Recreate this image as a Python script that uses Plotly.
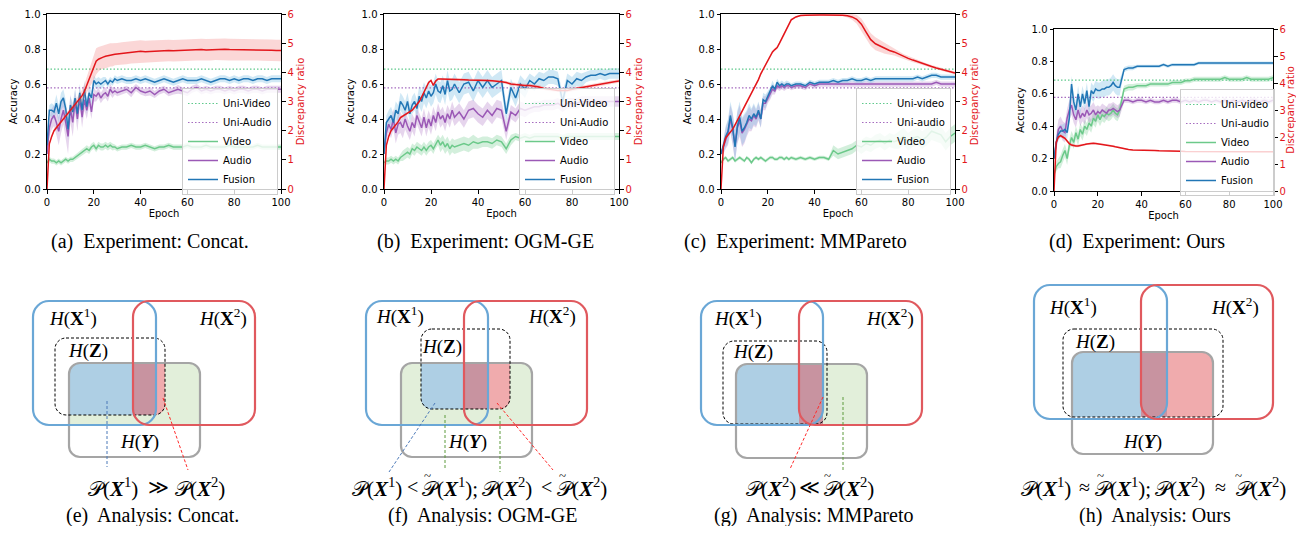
import plotly.graph_objects as go

# page is 1304x534; the browser adds an 8px body margin, so the figure is drawn
# 16px smaller and all layout positions below are given in page pixels.
PAGE_W, PAGE_H, OFF = 1304, 534, 8
W, H = PAGE_W - 2 * OFF, PAGE_H - 2 * OFF

# ---------------- data ----------------
EPOCHS = list(range(0, 31)) + list(range(32, 101, 2))

UNI_VIDEO_ACC = 0.685
UNI_AUDIO_ACC = 0.578

# ---- (a) Concat ----
VIDEO_A = [0.15,0.17,0.16,0.16,0.15,0.16,0.15,0.16,0.17,0.16,0.17,0.17,0.18,0.19,0.20,0.21,0.22,0.23,0.22,0.24,0.25,0.23,0.25,0.24,0.24,0.25,0.24,0.25,0.24,0.24,0.23,
           0.24,0.24,0.25,0.24,0.24,0.25,0.24,0.23,0.24,0.24,0.25,0.24,0.24,0.24,0.25,0.24,0.24,0.24,0.25,0.24,0.24,0.24,0.24,0.25,0.24,0.24,0.24,0.24,0.24,0.25,0.24,0.24,0.24,0.24,0.24]
AUDIO_A = [0.20,0.35,0.40,0.42,0.38,0.33,0.40,0.45,0.38,0.30,0.46,0.38,0.50,0.40,0.52,0.41,0.51,0.45,0.52,0.44,0.54,0.53,0.55,0.52,0.54,0.55,0.53,0.57,0.55,0.56,0.55,
           0.56,0.57,0.55,0.58,0.56,0.55,0.56,0.54,0.56,0.57,0.55,0.56,0.57,0.56,0.55,0.57,0.58,0.56,0.57,0.56,0.57,0.57,0.56,0.57,0.56,0.57,0.57,0.56,0.57,0.57,0.56,0.57,0.57,0.57,0.57]
FUSION_A = [0.25,0.45,0.45,0.44,0.49,0.43,0.50,0.52,0.46,0.34,0.48,0.44,0.52,0.43,0.55,0.45,0.57,0.47,0.55,0.52,0.62,0.60,0.61,0.60,0.61,0.62,0.60,0.62,0.61,0.63,0.62,
            0.63,0.62,0.62,0.63,0.62,0.63,0.62,0.61,0.62,0.63,0.62,0.61,0.62,0.63,0.62,0.62,0.62,0.63,0.62,0.61,0.62,0.63,0.63,0.62,0.63,0.62,0.63,0.63,0.62,0.63,0.63,0.62,0.63,0.63,0.63]
DISC_A = [0.0,1.55,1.8,2.0,2.1,2.2,2.3,2.42,2.52,2.62,2.7,2.8,2.9,3.0,3.1,3.2,3.35,3.55,3.8,4.0,4.2,4.38,4.45,4.5,4.52,4.55,4.57,4.6,4.6,4.62,4.63,
          4.65,4.66,4.68,4.70,4.72,4.71,4.72,4.73,4.73,4.74,4.75,4.74,4.75,4.76,4.76,4.77,4.78,4.78,4.77,4.78,4.79,4.78,4.79,4.78,4.78,4.77,4.78,4.78,4.77,4.78,4.77,4.76,4.76,4.75,4.75]
SD_VIDEO_A = [0.01,0.015,0.015,0.015,0.015,0.015,0.015,0.015,0.015,0.015,0.015,0.015,0.015,0.015,0.015,0.02,0.02,0.02,0.02,0.02,0.02,0.02,0.02,0.02,0.02,0.02,0.02,0.02,0.02,0.015,0.015,
              0.015,0.015,0.015,0.015,0.015,0.015,0.015,0.015,0.015,0.015,0.015,0.015,0.015,0.015,0.015,0.015,0.015,0.015,0.015,0.015,0.015,0.015,0.015,0.015,0.015,0.015,0.015,0.015,0.015,0.015,0.015,0.015,0.015,0.015,0.015]
SD_AUDIO_A = [0.0,0.05,0.06,0.06,0.07,0.08,0.08,0.08,0.09,0.10,0.08,0.08,0.07,0.07,0.06,0.06,0.06,0.05,0.05,0.04,0.04,0.03,0.03,0.03,0.03,0.03,0.03,0.03,0.03,0.02,0.02,
              0.02,0.02,0.025,0.02,0.02,0.02,0.025,0.02,0.02,0.02,0.02,0.02,0.025,0.02,0.02,0.02,0.02,0.02,0.02,0.02,0.02,0.02,0.02,0.02,0.02,0.02,0.02,0.02,0.02,0.02,0.02,0.02,0.02,0.02,0.02]
SD_FUSION_A = [0.0,0.03,0.04,0.04,0.05,0.05,0.05,0.05,0.05,0.06,0.05,0.05,0.05,0.05,0.05,0.05,0.05,0.04,0.04,0.04,0.03,0.03,0.03,0.03,0.03,0.02,0.02,0.02,0.02,0.02,0.02,
               0.02,0.02,0.02,0.02,0.02,0.02,0.02,0.02,0.02,0.02,0.02,0.02,0.02,0.02,0.02,0.02,0.02,0.02,0.02,0.02,0.02,0.02,0.02,0.02,0.02,0.02,0.02,0.02,0.02,0.02,0.02,0.02,0.02,0.02,0.02]
SD_DISC_A = [0.0,0.05,0.05,0.05,0.06,0.06,0.07,0.07,0.08,0.08,0.09,0.10,0.12,0.14,0.17,0.20,0.25,0.30,0.35,0.40,0.45,0.45,0.42,0.40,0.40,0.40,0.40,0.40,0.40,0.38,0.38,
             0.38,0.38,0.38,0.38,0.38,0.37,0.37,0.37,0.37,0.37,0.37,0.37,0.37,0.37,0.37,0.37,0.37,0.37,0.37,0.37,0.37,0.37,0.37,0.37,0.37,0.37,0.37,0.37,0.37,0.37,0.37,0.37,0.37,0.37,0.37]

# ---- (b) OGM-GE ----
VIDEO_B = [0.15,0.16,0.16,0.17,0.16,0.17,0.16,0.18,0.19,0.20,0.21,0.20,0.23,0.22,0.24,0.23,0.22,0.24,0.22,0.24,0.25,0.23,0.26,0.28,0.25,0.27,0.24,0.26,0.23,0.25,0.24,
           0.25,0.26,0.25,0.27,0.26,0.27,0.27,0.26,0.28,0.27,0.23,0.28,0.30,0.29,0.30,0.29,0.30,0.30,0.30,0.30,0.30,0.30,0.29,0.30,0.30,0.30,0.30,0.30,0.30,0.30,0.30,0.30,0.30,0.30,0.30]
AUDIO_B = [0.20,0.32,0.37,0.34,0.40,0.32,0.37,0.38,0.35,0.40,0.36,0.33,0.38,0.35,0.42,0.38,0.35,0.41,0.35,0.40,0.36,0.42,0.38,0.44,0.40,0.42,0.38,0.43,0.40,0.45,0.41,
           0.44,0.40,0.45,0.46,0.43,0.41,0.45,0.42,0.46,0.45,0.33,0.44,0.42,0.46,0.45,0.46,0.47,0.47,0.48,0.48,0.48,0.49,0.47,0.49,0.49,0.49,0.50,0.50,0.50,0.50,0.50,0.50,0.50,0.50,0.50]
FUSION_B = [0.20,0.38,0.40,0.42,0.38,0.45,0.43,0.50,0.48,0.45,0.50,0.43,0.48,0.50,0.46,0.53,0.50,0.55,0.52,0.56,0.53,0.55,0.60,0.56,0.55,0.59,0.54,0.62,0.56,0.57,0.60,
            0.55,0.60,0.61,0.56,0.62,0.58,0.62,0.58,0.60,0.62,0.43,0.58,0.52,0.60,0.57,0.62,0.60,0.63,0.62,0.64,0.64,0.63,0.50,0.62,0.60,0.63,0.62,0.64,0.65,0.65,0.66,0.65,0.66,0.66,0.66]
DISC_B = [0.0,1.5,1.8,2.0,2.1,2.2,2.3,2.45,2.5,2.55,2.6,2.65,2.7,2.8,2.9,3.0,3.15,3.3,3.5,3.65,3.72,3.55,3.7,3.77,3.77,3.77,3.76,3.76,3.76,3.75,3.75,
          3.75,3.75,3.74,3.74,3.74,3.73,3.72,3.71,3.70,3.68,3.65,3.60,3.58,3.56,3.55,3.55,3.53,3.50,3.45,3.42,3.40,3.38,3.38,3.38,3.42,3.45,3.48,3.52,3.55,3.58,3.60,3.62,3.65,3.68,3.70]
SD_VIDEO_B = [0.01,0.02,0.02,0.02,0.02,0.02,0.02,0.02,0.03,0.03,0.03,0.03,0.03,0.03,0.03,0.03,0.03,0.03,0.03,0.03,0.03,0.03,0.03,0.03,0.04,0.04,0.04,0.04,0.04,0.04,0.04,
              0.04,0.04,0.04,0.04,0.03,0.03,0.03,0.03,0.03,0.03,0.03,0.03,0.02,0.02,0.02,0.02,0.02,0.02,0.02,0.02,0.02,0.02,0.02,0.02,0.02,0.02,0.02,0.02,0.02,0.02,0.02,0.02,0.02,0.02,0.02]
SD_AUDIO_B = [0.0,0.04,0.05,0.05,0.06,0.06,0.06,0.06,0.06,0.06,0.05,0.05,0.05,0.05,0.05,0.05,0.05,0.05,0.05,0.05,0.05,0.05,0.05,0.05,0.05,0.05,0.05,0.05,0.05,0.05,0.05,
              0.05,0.05,0.05,0.05,0.05,0.05,0.05,0.05,0.05,0.05,0.05,0.04,0.04,0.04,0.04,0.03,0.03,0.03,0.03,0.03,0.03,0.03,0.03,0.03,0.03,0.03,0.03,0.03,0.03,0.03,0.03,0.03,0.03,0.03,0.03]
SD_FUSION_B = [0.0,0.04,0.05,0.05,0.05,0.05,0.05,0.05,0.05,0.05,0.05,0.05,0.05,0.05,0.05,0.06,0.06,0.06,0.06,0.06,0.06,0.06,0.06,0.06,0.06,0.06,0.06,0.06,0.06,0.06,0.06,
               0.06,0.06,0.06,0.06,0.06,0.06,0.06,0.06,0.06,0.06,0.05,0.05,0.05,0.05,0.05,0.04,0.04,0.04,0.04,0.04,0.04,0.04,0.05,0.04,0.04,0.04,0.04,0.03,0.03,0.03,0.03,0.03,0.03,0.03,0.03]
SD_DISC_B = [0.0,0.04,0.04,0.04,0.04,0.04,0.04,0.04,0.04,0.04,0.04,0.04,0.04,0.04,0.04,0.04,0.04,0.04,0.04,0.04,0.04,0.04,0.04,0.04,0.04,0.04,0.04,0.04,0.04,0.04,0.04,
             0.04,0.04,0.04,0.04,0.04,0.04,0.04,0.04,0.04,0.05,0.05,0.06,0.06,0.06,0.06,0.06,0.06,0.06,0.06,0.06,0.06,0.06,0.06,0.06,0.06,0.06,0.06,0.06,0.06,0.06,0.06,0.06,0.06,0.06,0.06]

# ---- (c) MMPareto ----
VIDEO_C = [0.15,0.17,0.18,0.16,0.17,0.18,0.16,0.17,0.18,0.17,0.16,0.18,0.17,0.15,0.17,0.18,0.17,0.18,0.17,0.16,0.17,0.18,0.18,0.17,0.17,0.18,0.18,0.17,0.18,0.17,0.18,
           0.17,0.18,0.17,0.18,0.17,0.18,0.18,0.17,0.22,0.20,0.21,0.22,0.23,0.25,0.24,0.26,0.25,0.27,0.28,0.26,0.28,0.27,0.28,0.30,0.27,0.29,0.30,0.28,0.30,0.33,0.32,0.31,0.27,0.30,0.32]
AUDIO_C = [0.20,0.24,0.29,0.32,0.40,0.34,0.25,0.35,0.39,0.32,0.34,0.37,0.40,0.39,0.42,0.40,0.44,0.40,0.49,0.49,0.52,0.54,0.57,0.56,0.59,0.58,0.59,0.58,0.59,0.59,0.58,
           0.59,0.59,0.58,0.60,0.59,0.60,0.60,0.60,0.60,0.60,0.60,0.60,0.60,0.60,0.60,0.60,0.60,0.60,0.60,0.60,0.60,0.60,0.60,0.60,0.60,0.60,0.60,0.60,0.60,0.60,0.61,0.60,0.60,0.60,0.60]
FUSION_C = [0.20,0.25,0.30,0.33,0.42,0.35,0.24,0.36,0.41,0.33,0.35,0.38,0.42,0.40,0.43,0.41,0.45,0.40,0.51,0.50,0.53,0.55,0.59,0.57,0.61,0.59,0.60,0.59,0.60,0.60,0.59,
            0.60,0.60,0.59,0.61,0.60,0.61,0.61,0.61,0.62,0.61,0.62,0.62,0.63,0.62,0.62,0.63,0.62,0.63,0.63,0.63,0.63,0.63,0.63,0.63,0.63,0.63,0.64,0.63,0.64,0.65,0.65,0.64,0.64,0.64,0.64]
DISC_C = [0.0,1.45,1.75,1.85,1.95,2.05,2.2,2.35,2.5,2.65,2.85,3.0,3.15,3.3,3.45,3.6,3.75,3.95,4.1,4.25,4.4,4.55,4.7,4.78,4.85,5.0,5.15,5.3,5.45,5.65,5.8,
          5.9,5.95,5.96,5.97,5.97,5.97,5.97,5.97,5.97,5.96,5.96,5.94,5.9,5.82,5.65,5.38,5.12,4.98,4.9,4.82,4.75,4.7,4.62,4.55,4.48,4.42,4.36,4.3,4.25,4.2,4.15,4.1,4.06,4.02,3.98]
SD_VIDEO_C = [0.01,0.01,0.01,0.01,0.01,0.01,0.01,0.01,0.01,0.01,0.01,0.01,0.01,0.01,0.01,0.01,0.01,0.01,0.01,0.01,0.01,0.01,0.01,0.01,0.01,0.01,0.01,0.01,0.01,0.01,0.01,
              0.01,0.01,0.01,0.01,0.01,0.01,0.01,0.01,0.03,0.03,0.03,0.03,0.03,0.03,0.04,0.04,0.04,0.04,0.04,0.04,0.04,0.04,0.05,0.05,0.05,0.05,0.05,0.05,0.05,0.05,0.05,0.05,0.05,0.05,0.05]
SD_AUDIO_C = [0.0,0.04,0.06,0.07,0.08,0.09,0.09,0.09,0.09,0.08,0.08,0.07,0.07,0.06,0.06,0.05,0.05,0.05,0.04,0.04,0.03,0.03,0.03,0.02,0.02,0.02,0.02,0.02,0.02,0.015,0.015,
              0.015,0.015,0.015,0.015,0.015,0.015,0.015,0.015,0.015,0.015,0.015,0.015,0.015,0.015,0.015,0.015,0.015,0.015,0.015,0.015,0.015,0.015,0.015,0.015,0.015,0.015,0.015,0.015,0.015,0.015,0.015,0.015,0.015,0.015,0.015]
SD_FUSION_C = [0.0,0.04,0.06,0.07,0.08,0.09,0.09,0.09,0.09,0.08,0.08,0.07,0.07,0.06,0.06,0.05,0.05,0.05,0.04,0.04,0.03,0.03,0.03,0.02,0.02,0.02,0.02,0.02,0.02,0.015,0.015,
               0.015,0.015,0.015,0.015,0.015,0.015,0.015,0.015,0.015,0.015,0.015,0.015,0.015,0.015,0.015,0.015,0.015,0.015,0.015,0.015,0.015,0.015,0.015,0.015,0.015,0.015,0.015,0.015,0.015,0.015,0.015,0.015,0.015,0.015,0.015]
SD_DISC_C = [0.0,0.03,0.03,0.03,0.03,0.03,0.03,0.03,0.04,0.04,0.04,0.04,0.04,0.04,0.05,0.05,0.05,0.05,0.05,0.05,0.05,0.05,0.05,0.05,0.05,0.05,0.05,0.05,0.05,0.04,0.04,
             0.03,0.03,0.03,0.03,0.03,0.03,0.03,0.03,0.03,0.03,0.04,0.06,0.10,0.15,0.20,0.22,0.22,0.22,0.20,0.18,0.15,0.12,0.10,0.08,0.08,0.07,0.06,0.06,0.05,0.05,0.05,0.05,0.05,0.05,0.05]

# ---- (d) Ours ----
VIDEO_D = [0.10,0.15,0.17,0.18,0.22,0.25,0.20,0.28,0.33,0.30,0.36,0.32,0.38,0.35,0.40,0.38,0.42,0.40,0.45,0.43,0.47,0.44,0.47,0.46,0.48,0.47,0.48,0.50,0.48,0.47,0.50,
           0.63,0.64,0.64,0.65,0.65,0.65,0.66,0.66,0.66,0.66,0.66,0.67,0.67,0.67,0.68,0.68,0.69,0.69,0.69,0.69,0.69,0.69,0.69,0.70,0.69,0.69,0.69,0.69,0.70,0.69,0.69,0.69,0.69,0.69,0.70]
AUDIO_D = [0.20,0.30,0.38,0.40,0.37,0.36,0.45,0.50,0.53,0.47,0.44,0.50,0.45,0.48,0.46,0.50,0.47,0.48,0.50,0.47,0.49,0.48,0.50,0.49,0.48,0.50,0.50,0.51,0.50,0.49,0.50,
           0.56,0.56,0.55,0.56,0.56,0.55,0.56,0.55,0.55,0.56,0.55,0.56,0.56,0.55,0.56,0.55,0.56,0.55,0.56,0.56,0.55,0.56,0.55,0.56,0.55,0.56,0.55,0.56,0.55,0.56,0.56,0.55,0.56,0.55,0.56]
FUSION_D = [0.20,0.30,0.35,0.37,0.37,0.38,0.36,0.45,0.66,0.55,0.50,0.60,0.52,0.60,0.54,0.62,0.52,0.62,0.60,0.63,0.62,0.62,0.63,0.63,0.64,0.64,0.65,0.67,0.65,0.64,0.64,
            0.75,0.76,0.76,0.77,0.77,0.77,0.77,0.77,0.77,0.78,0.77,0.78,0.78,0.78,0.78,0.78,0.78,0.79,0.79,0.79,0.79,0.79,0.79,0.79,0.79,0.79,0.79,0.79,0.79,0.79,0.79,0.79,0.79,0.79,0.79]
DISC_D = [0.0,1.8,2.0,2.05,2.0,1.95,1.85,1.75,1.7,1.68,1.67,1.67,1.68,1.7,1.72,1.74,1.75,1.77,1.77,1.76,1.75,1.74,1.73,1.72,1.7,1.69,1.68,1.66,1.64,1.62,1.6,
          1.56,1.54,1.52,1.52,1.51,1.51,1.50,1.50,1.49,1.49,1.48,1.48,1.47,1.47,1.46,1.46,1.46,1.45,1.45,1.45,1.45,1.45,1.44,1.44,1.44,1.44,1.44,1.44,1.44,1.44,1.44,1.44,1.44,1.44,1.45]
SD_VIDEO_D = [0.0,0.03,0.03,0.04,0.04,0.04,0.04,0.04,0.04,0.04,0.04,0.04,0.04,0.04,0.04,0.04,0.04,0.04,0.04,0.04,0.04,0.04,0.04,0.04,0.04,0.04,0.04,0.04,0.04,0.04,0.04,
              0.02,0.02,0.02,0.015,0.015,0.015,0.015,0.015,0.015,0.015,0.015,0.015,0.015,0.015,0.015,0.015,0.015,0.015,0.015,0.015,0.015,0.015,0.015,0.015,0.015,0.015,0.015,0.015,0.015,0.015,0.015,0.015,0.015,0.015,0.015]
SD_AUDIO_D = [0.0,0.05,0.06,0.06,0.06,0.06,0.06,0.06,0.06,0.05,0.05,0.05,0.05,0.05,0.05,0.05,0.05,0.05,0.05,0.05,0.04,0.04,0.04,0.04,0.04,0.04,0.04,0.04,0.04,0.04,0.04,
              0.015,0.015,0.015,0.015,0.015,0.015,0.015,0.015,0.015,0.015,0.015,0.015,0.015,0.015,0.015,0.015,0.015,0.015,0.015,0.015,0.015,0.015,0.015,0.015,0.015,0.015,0.015,0.015,0.015,0.015,0.015,0.015,0.015,0.015,0.015]
SD_FUSION_D = [0.0,0.03,0.04,0.04,0.04,0.04,0.04,0.04,0.05,0.05,0.05,0.05,0.05,0.05,0.05,0.05,0.05,0.05,0.05,0.05,0.05,0.05,0.05,0.05,0.05,0.05,0.05,0.05,0.05,0.05,0.05,
               0.015,0.015,0.015,0.01,0.01,0.01,0.01,0.01,0.01,0.01,0.01,0.01,0.01,0.01,0.01,0.01,0.01,0.01,0.01,0.01,0.01,0.01,0.01,0.01,0.01,0.01,0.01,0.01,0.01,0.01,0.01,0.01,0.01,0.01,0.01]
SD_DISC_D = [0.0,0.05,0.06,0.06,0.06,0.06,0.06,0.06,0.06,0.05,0.05,0.05,0.05,0.05,0.04,0.04,0.04,0.04,0.04,0.04,0.04,0.04,0.03,0.03,0.03,0.03,0.03,0.03,0.03,0.03,0.03,
             0.02,0.02,0.02,0.02,0.02,0.02,0.02,0.02,0.02,0.02,0.02,0.02,0.02,0.02,0.02,0.02,0.02,0.02,0.02,0.02,0.02,0.02,0.02,0.02,0.02,0.02,0.02,0.02,0.02,0.02,0.02,0.02,0.02,0.02,0.02]

SERIES_NAMES = ["Video", "Audio", "Fusion"]
UNI_NAMES_CAP = ["Uni-Video", "Uni-Audio"]
UNI_NAMES_LOW = ["Uni-video", "Uni-audio"]
TOP_CAPTIONS = ["(a)  Experiment: Concat.", "(b)  Experiment: OGM-GE",
                "(c)  Experiment: MMPareto", "(d)  Experiment: Ours"]
BOTTOM_CAPTIONS = ["(e)  Analysis: Concat.", "(f)  Analysis: OGM-GE",
                   "(g)  Analysis: MMPareto", "(h)  Analysis: Ours"]

# ---------------- styles ----------------
C_VIDEO = "#6cc98a"
C_AUDIO = "#9b59b6"
C_FUSION = "#2176b5"
C_DISC = "#e3161b"
C_UNIV = "#5fc98c"
C_UNIA = "#a66cc0"
BAND = {"Video": "rgba(108,201,138,0.30)", "Audio": "rgba(155,89,182,0.25)",
        "Fusion": "rgba(120,190,225,0.35)", "Disc": "rgba(240,110,110,0.28)"}
SERIF = "Liberation Serif, DejaVu Serif, serif"

def fx(px):
    return (px - OFF) / W

def fy(py):
    return 1 - (py - OFF) / H

PANELS = [
    dict(video=VIDEO_A, audio=AUDIO_A, fusion=FUSION_A, disc=DISC_A,
         sd=(SD_VIDEO_A, SD_AUDIO_A, SD_FUSION_A, SD_DISC_A), uni=UNI_NAMES_CAP,
         box=(47, 14, 281, 189), leg=(182, 88), rstand=4),
    dict(video=VIDEO_B, audio=AUDIO_B, fusion=FUSION_B, disc=DISC_B,
         sd=(SD_VIDEO_B, SD_AUDIO_B, SD_FUSION_B, SD_DISC_B), uni=UNI_NAMES_CAP,
         box=(384, 14, 619, 189), leg=(519, 88), rstand=4),
    dict(video=VIDEO_C, audio=AUDIO_C, fusion=FUSION_C, disc=DISC_C,
         sd=(SD_VIDEO_C, SD_AUDIO_C, SD_FUSION_C, SD_DISC_C), uni=UNI_NAMES_LOW,
         box=(721, 14, 955, 189), leg=(856, 88), rstand=4),
    dict(video=VIDEO_D, audio=AUDIO_D, fusion=FUSION_D, disc=DISC_D,
         sd=(SD_VIDEO_D, SD_AUDIO_D, SD_FUSION_D, SD_DISC_D), uni=UNI_NAMES_LOW,
         box=(1054, 29, 1273, 191), leg=(1180, 89), rstand=2),
]
TOP_CAPTION_POS = [(150, 241), (485, 241), (795, 241), (1137, 241)]

for p in PANELS:
    for arr in [p["video"], p["audio"], p["fusion"], p["disc"], *p["sd"]]:
        assert len(arr) == len(EPOCHS), len(arr)

fig = go.Figure()
layout = dict(template="none", width=W, height=H, margin=dict(l=0, r=0, t=0, b=0, pad=0),
              paper_bgcolor="white", plot_bgcolor="rgba(0,0,0,0)",
              font=dict(family="DejaVu Sans", size=10, color="black"))

def band_trace(x, y, sd, color, xa, ya):
    up = [a + b for a, b in zip(y, sd)]
    lo = [a - b for a, b in zip(y, sd)]
    return go.Scatter(x=x + x[::-1], y=up + lo[::-1], fill="toself", fillcolor=color,
                      line=dict(width=0), mode="lines", hoverinfo="skip",
                      showlegend=False, xaxis=xa, yaxis=ya)

DOT = "1.5px,2px"

for i, p in enumerate(PANELS):
    k = i + 1
    xa = "x" if k == 1 else f"x{k}"
    ya = "y" if k == 1 else f"y{k}"
    yr = f"y{k + 4}"
    leg = "legend" if k == 1 else f"legend{k}"
    x0, y0, x1, y1 = p["box"]
    sdv, sda, sdf, sdd = p["sd"]
    fig.add_trace(band_trace(EPOCHS, p["video"], sdv, BAND["Video"], xa, ya))
    fig.add_trace(band_trace(EPOCHS, p["audio"], sda, BAND["Audio"], xa, ya))
    fig.add_trace(band_trace(EPOCHS, p["fusion"], sdf, BAND["Fusion"], xa, ya))
    fig.add_trace(go.Scatter(x=[0, 100], y=[UNI_VIDEO_ACC, UNI_VIDEO_ACC], mode="lines",
                             line=dict(color=C_UNIV, width=1.2, dash=DOT),
                             name=p["uni"][0], legend=leg, xaxis=xa, yaxis=ya))
    fig.add_trace(go.Scatter(x=[0, 100], y=[UNI_AUDIO_ACC, UNI_AUDIO_ACC], mode="lines",
                             line=dict(color=C_UNIA, width=1.2, dash=DOT),
                             name=p["uni"][1], legend=leg, xaxis=xa, yaxis=ya))
    for nm, arr, col in zip(SERIES_NAMES, [p["video"], p["audio"], p["fusion"]],
                            [C_VIDEO, C_AUDIO, C_FUSION]):
        fig.add_trace(go.Scatter(x=EPOCHS, y=arr, mode="lines",
                                 line=dict(color=col, width=1.5),
                                 name=nm, legend=leg, xaxis=xa, yaxis=ya))
    fig.add_trace(band_trace(EPOCHS, p["disc"], sdd, BAND["Disc"], xa, yr))
    fig.add_trace(go.Scatter(x=EPOCHS, y=p["disc"], mode="lines",
                             line=dict(color=C_DISC, width=1.5), showlegend=False,
                             xaxis=xa, yaxis=yr))

    axkey = "xaxis" if k == 1 else f"xaxis{k}"
    aykey = "yaxis" if k == 1 else f"yaxis{k}"
    common = dict(showline=True, linecolor="black", linewidth=1, automargin=False,
                  ticks="outside", ticklen=3.5, tickwidth=0.8, tickcolor="black",
                  showgrid=False, zeroline=False)
    layout[axkey] = dict(domain=[fx(x0), fx(x1)], range=[0, 100], anchor=ya, mirror=True,
                         tickvals=[0, 20, 40, 60, 80, 100], tickfont=dict(size=10),
                         title=dict(text="Epoch", font=dict(size=10), standoff=3), **common)
    layout[aykey] = dict(domain=[fy(y1), fy(y0)], range=[0, 1], anchor=xa,
                         tickvals=[0, 0.2, 0.4, 0.6, 0.8, 1.0], tickformat=".1f",
                         tickfont=dict(size=10),
                         title=dict(text="Accuracy", font=dict(size=10), standoff=5), **common)
    layout[f"yaxis{k + 4}"] = dict(overlaying=ya, side="right", anchor=xa, range=[0, 6],
                                   tickvals=[0, 1, 2, 3, 4, 5, 6],
                                   tickfont=dict(size=10, color=C_DISC),
                                   title=dict(text="Discrepancy ratio",
                                              font=dict(size=10, color=C_DISC),
                                              standoff=p["rstand"]),
                                   **common)
    lx, ly = p["leg"]
    layout[leg] = dict(x=fx(lx), y=fy(ly), xanchor="left", yanchor="top",
                       bgcolor="rgba(255,255,255,0.8)", bordercolor="#cccccc", borderwidth=1,
                       font=dict(size=10), tracegroupgap=0, itemwidth=30)

# ------------- diagram canvas (page-pixel coordinates) -------------
layout["xaxis9"] = dict(domain=[0, 1], range=[OFF, OFF + W], visible=False, anchor="y9",
                        fixedrange=True, automargin=False)
layout["yaxis9"] = dict(domain=[0, 1], range=[OFF + H, OFF], visible=False, anchor="x9",
                        fixedrange=True, automargin=False)

def rr(x0, y0, x1, y1, r):
    tl, tr, br, bl = r
    k = 0.5523
    return (f"M {x0 + tl},{y0} L {x1 - tr},{y0} "
            f"C {x1 - tr + k * tr},{y0} {x1},{y0 + tr - k * tr} {x1},{y0 + tr} "
            f"L {x1},{y1 - br} "
            f"C {x1},{y1 - br + k * br} {x1 - br + k * br},{y1} {x1 - br},{y1} "
            f"L {x0 + bl},{y1} "
            f"C {x0 + bl - k * bl},{y1} {x0},{y1 - bl + k * bl} {x0},{y1 - bl} "
            f"L {x0},{y0 + tl} "
            f"C {x0},{y0 + tl - k * tl} {x0 + tl - k * tl},{y0} {x0 + tl},{y0} Z")

DIAGRAMS = [
    dict(X1=(33, 301, 156, 425), X2=(133, 301, 255, 425), Z=(55, 338, 165, 415), Y=(69, 363, 200, 457),
         green=((69, 363, 200, 425), (10, 10, 0, 0)), white=((69, 363, 165, 415), (10, 0, 10, 0)),
         blue=((69, 363, 156, 415), (10, 0, 0, 0)), red=((133, 363, 165, 415), (0, 0, 10, 0)),
         lab=[(73, 317), (223, 317), (88, 351), (139, 442)],
         lines=[((107, 401), (107, 467), "#4a78b8"), ((163, 398), (188, 470), "#ff2a2a")]),
    dict(X1=(366, 301, 488, 425), X2=(464, 301, 587, 425), Z=(421, 329, 510, 409), Y=(401, 363, 532, 457),
         green=((401, 363, 532, 425), (10, 10, 0, 0)), white=((421, 363, 510, 409), (0, 0, 10, 10)),
         blue=((421, 363, 488, 409), (0, 0, 0, 10)), red=((464, 363, 510, 409), (0, 0, 10, 0)),
         lab=[(400, 315), (552, 315), (442, 347), (467, 442)],
         lines=[((435, 403), (389, 472), "#4a78b8"), ((445, 415), (445, 470), "#5d9a3c"),
                ((500, 416), (500, 472), "#5d9a3c"), ((497, 403), (553, 470), "#ff2a2a")]),
    dict(X1=(701, 301, 823, 425), X2=(799, 301, 922, 425), Z=(723, 341, 827, 424), Y=(736, 364, 867, 458),
         green=((736, 364, 867, 425), (10, 10, 0, 0)), white=None,
         blue=((736, 364, 823, 424), (10, 0, 0, 0)), red=((799, 364, 823, 424), (0, 0, 0, 0)),
         lab=[(738, 317), (890, 317), (753, 352), None],
         lines=[((823, 397), (790, 469), "#ff2a2a"), ((843, 397), (843, 470), "#5d9a3c")]),
    dict(X1=(1034, 285, 1167, 419), X2=(1141, 285, 1273, 419), Z=(1063, 329, 1223, 417), Y=(1072, 352, 1213, 454),
         green=None, white=None,
         blue=((1072, 352, 1167, 417), (10, 0, 0, 0)), red=((1141, 352, 1213, 417), (0, 10, 0, 0)),
         lab=[(1073, 306), (1235, 306), (1095, 342), (1142, 442)],
         lines=[]),
]
BOTTOM_CAPTION_POS = [(152, 515), (482, 515), (813, 515), (1155, 515)]

BX = "<b><i>X</i></b>"
P = "\U0001D4AB"
T1 = f"{P}({BX}<sup>1</sup>)"
T2 = f"{P}({BX}<sup>2</sup>)"
FORMULA_Y = 487
# terms: (text, centre x, x of a tilde over the leading P or None); relations: (symbol, centre x)
FORMULA_TERMS = [
    [(T1, 113, None), (T2, 200, None)],
    [(T1, 377, None), (T1 + ";", 450, 427), (T2, 507, None), (T2, 582, 562)],
    [(T2, 771, None), (T2, 849, 827)],
    [(T1, 1046, None), (T1 + ";", 1123, 1100), (T2, 1180, None), (T2, 1261, 1238)],
]
FORMULA_RELS = [
    [("≫", 158)],
    [("&lt;", 412), ("&lt;", 546)],
    [("≪", 809)],
    [("≈", 1084), ("≈", 1220)],
]
LABELS = ["<i>H</i>(<b>X</b><sup>1</sup>)", "<i>H</i>(<b>X</b><sup>2</sup>)",
          "<i>H</i>(<b>Z</b>)", "<i>H</i>(<b><i>Y</i></b>)"]

shapes = []
annotations = []
C_GREEN_FILL = "#e2efda"
C_BLUE_FILL = "#aecfe4"
C_RED_FILL = "rgba(226,88,92,0.5)"
C_X1 = "#6aa7d6"
C_X2 = "#e0595e"
C_Y = "#a5a5a5"

def addfill(spec, color):
    if spec is None:
        return
    (a, b, c, e), r = spec
    shapes.append(dict(type="path", path=rr(a, b, c, e, r), xref="x9", yref="y9",
                       fillcolor=color, line=dict(width=0), layer="above"))

for d in DIAGRAMS:
    addfill(d["green"], C_GREEN_FILL)
    addfill(d["white"], "white")
    addfill(d["blue"], C_BLUE_FILL)
    addfill(d["red"], C_RED_FILL)
    for key, col, wid, dash, rad in [("Y", C_Y, 2.2, "solid", 11), ("Z", "black", 1, "3px,2px", 11),
                                     ("X1", C_X1, 2.2, "solid", 16), ("X2", C_X2, 2.2, "solid", 16)]:
        a, b, c, e = d[key]
        shapes.append(dict(type="path", path=rr(a, b, c, e, (rad, rad, rad, rad)), xref="x9", yref="y9",
                           line=dict(color=col, width=wid, dash=dash), layer="above"))
    for (p0, p1, col) in d["lines"]:
        shapes.append(dict(type="line", x0=p0[0], y0=p0[1], x1=p1[0], y1=p1[1], xref="x9", yref="y9",
                           line=dict(color=col, width=1, dash="3px,2px"), layer="above"))
    for pos, txt in zip(d["lab"], LABELS):
        if pos is None:
            continue
        annotations.append(dict(x=pos[0], y=pos[1], xref="x9", yref="y9", text=txt, showarrow=False,
                                font=dict(family=SERIF, size=19, color="black")))

FFONT = dict(family=SERIF, size=21, color="black")
for terms, rels in zip(FORMULA_TERMS, FORMULA_RELS):
    for txt, xc, tx in terms:
        annotations.append(dict(x=xc, y=FORMULA_Y, xref="x9", yref="y9", text=txt, showarrow=False,
                                borderpad=0, font=FFONT))
        if tx is not None:
            annotations.append(dict(x=tx, y=FORMULA_Y - 12, xref="x9", yref="y9", text="~",
                                    showarrow=False, borderpad=0,
                                    font=dict(family=SERIF, size=13, color="black")))
    for sym, xc in rels:
        annotations.append(dict(x=xc, y=FORMULA_Y, xref="x9", yref="y9", text=sym, showarrow=False,
                                borderpad=0, font=dict(family=SERIF, size=20, color="black")))

for (x, y), txt in zip(TOP_CAPTION_POS + BOTTOM_CAPTION_POS, TOP_CAPTIONS + BOTTOM_CAPTIONS):
    annotations.append(dict(x=x, y=y, xref="x9", yref="y9", text=txt, showarrow=False,
                            font=dict(family=SERIF, size=20, color="black")))

layout["shapes"] = shapes
layout["annotations"] = annotations
fig.update_layout(**layout)
fig.write_html("out.html")
